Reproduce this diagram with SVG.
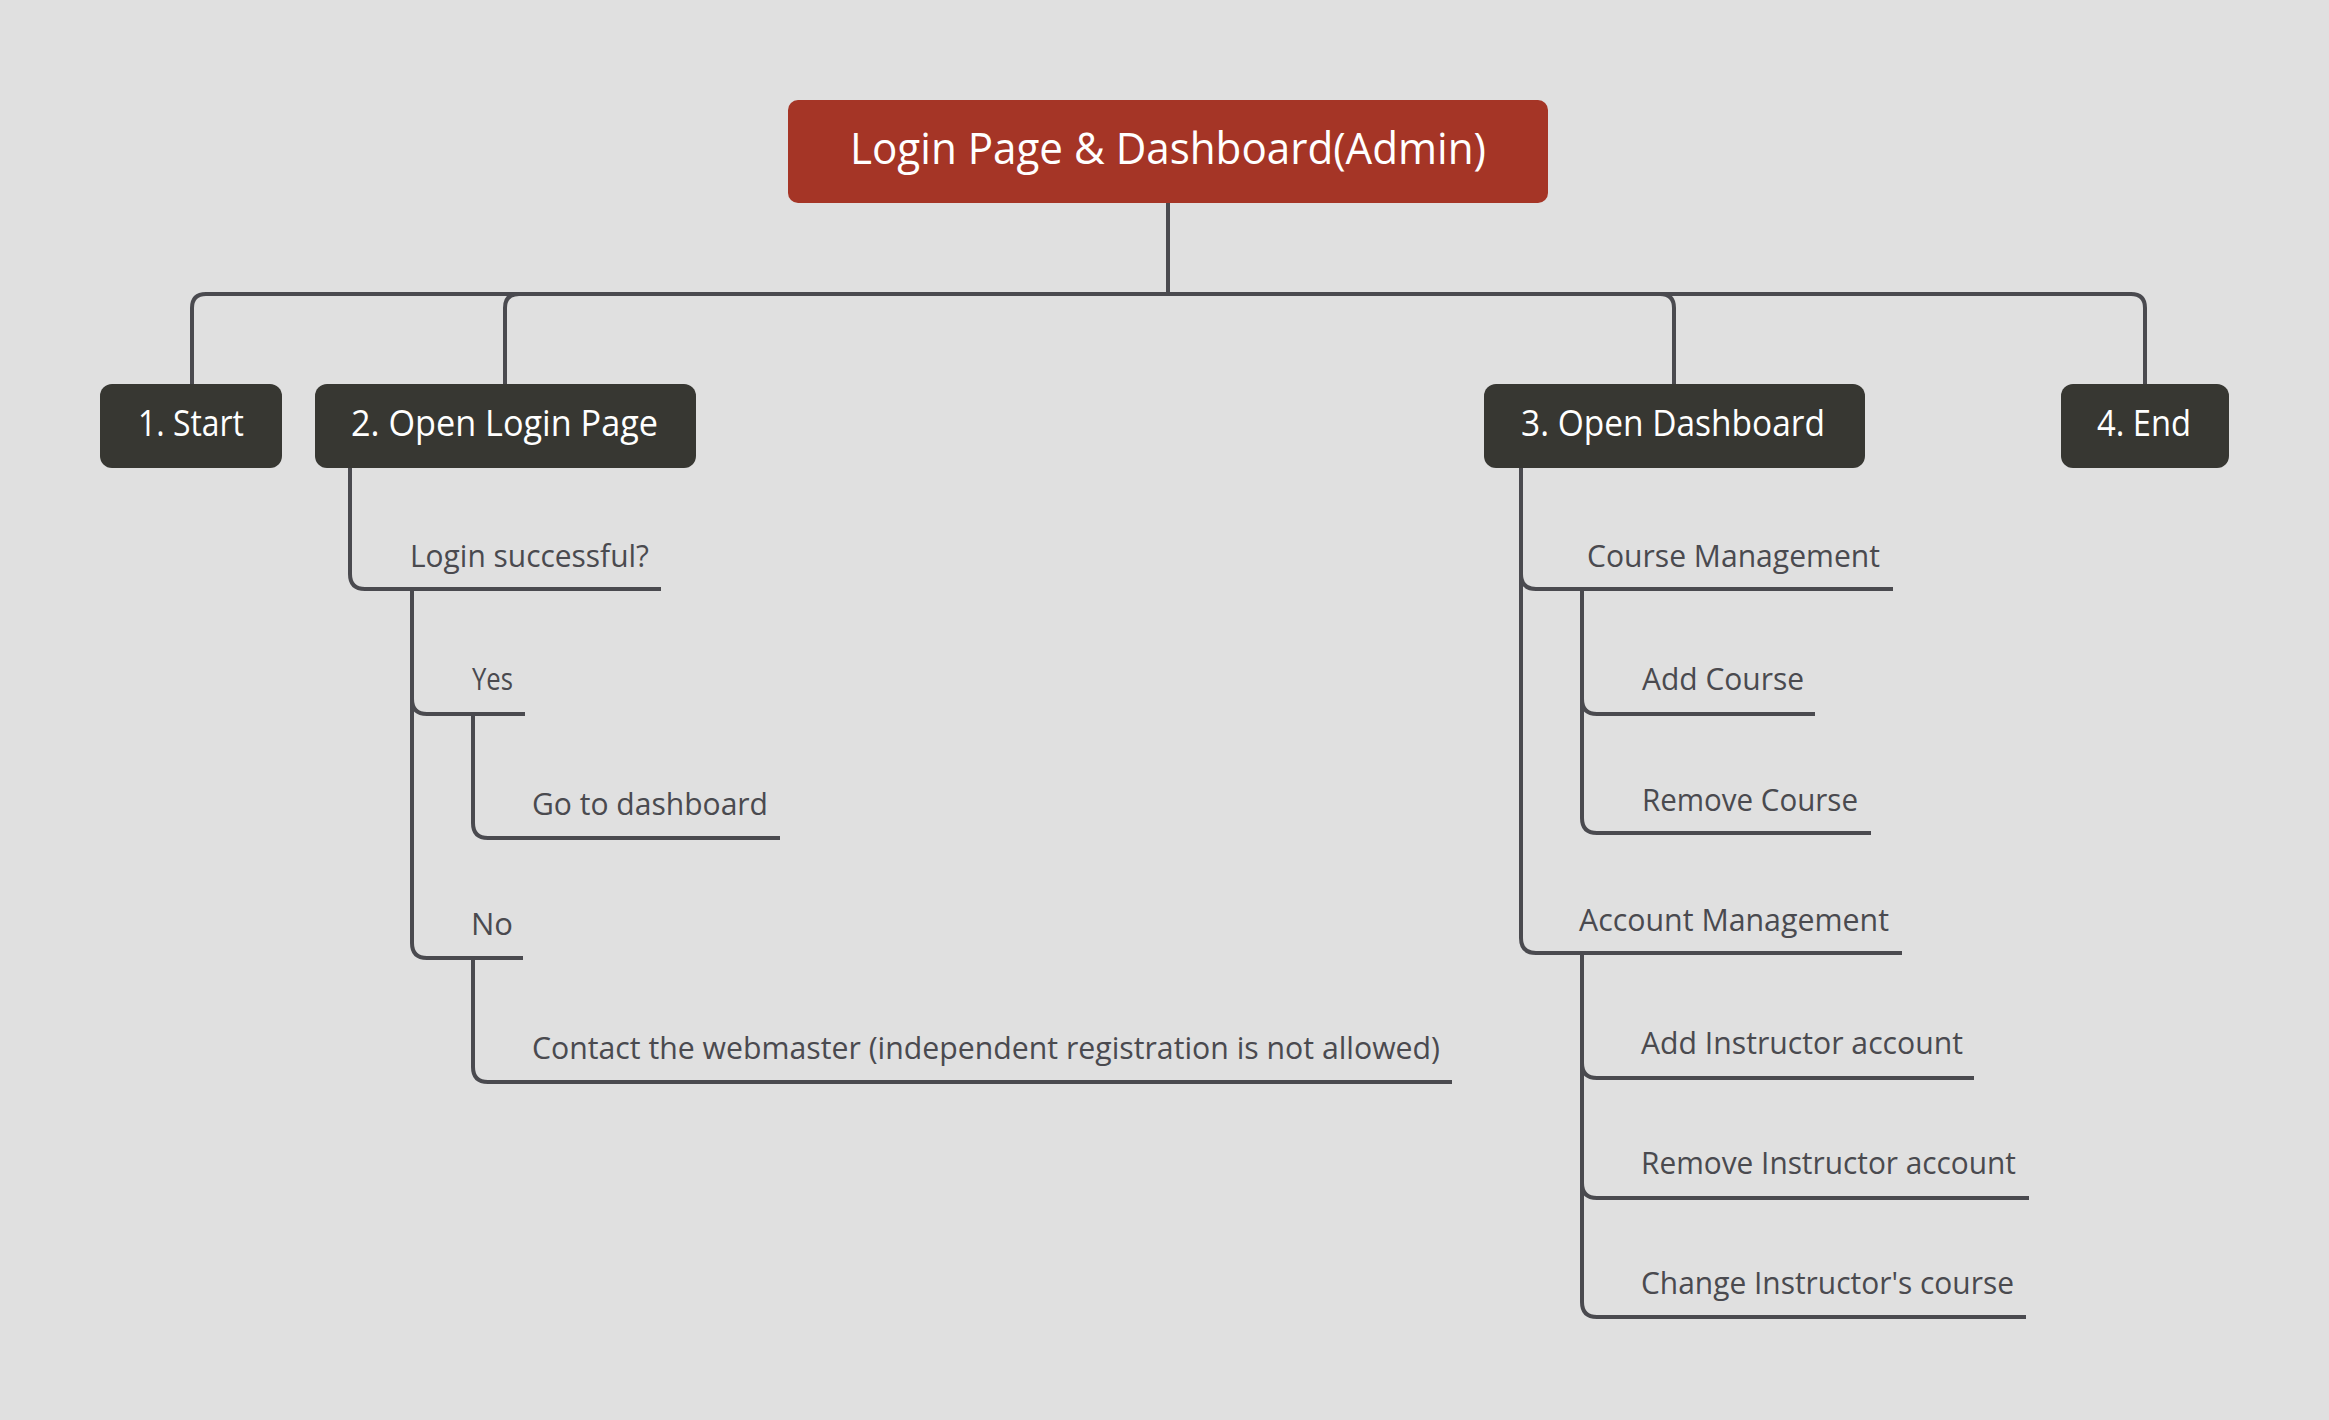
<svg xmlns="http://www.w3.org/2000/svg" width="2329" height="1420" viewBox="0 0 2329 1420">
<style>
.bg{fill:#e0e0e0}
.root{fill:#a53526}
.main{fill:#373732}
.rt{font-family:"Open Sans","Noto Sans","Liberation Sans",sans-serif;font-size:43px;fill:#ffffff}
.mt{font-family:"Open Sans","Noto Sans","Liberation Sans",sans-serif;font-size:36px;fill:#ffffff}
.st{font-family:"Open Sans","Noto Sans","Liberation Sans",sans-serif;font-size:31px;fill:#4a4a4f}
.ln{fill:none;stroke:#4a4a4f;stroke-width:4}
</style>
<rect class="bg" x="0" y="0" width="2329" height="1420"/>
<g id="connectors">
<path class="ln" d="M1168 203 V294"/>
<path class="ln" d="M192 384 V308 Q192 294 206 294 H2131 Q2145 294 2145 308 V384"/>
<path class="ln" d="M505 384 V308 Q505 294 519 294"/>
<path class="ln" d="M1674 384 V308 Q1674 294 1660 294"/>
<path class="ln" d="M350 468 V574 Q350 589 365 589 H398"/>
<path class="ln" d="M412 589 V699 Q412 714 427 714 H460"/>
<path class="ln" d="M412 589 V943 Q412 958 427 958 H461"/>
<path class="ln" d="M473 714 V823 Q473 838 488 838 H522"/>
<path class="ln" d="M473 958 V1067 Q473 1082 488 1082 H522"/>
<path class="ln" d="M1521 468 V574 Q1521 589 1536 589 H1568"/>
<path class="ln" d="M1521 468 V938 Q1521 953 1536 953 H1568"/>
<path class="ln" d="M1582 589 V699 Q1582 714 1597 714 H1631"/>
<path class="ln" d="M1582 589 V818 Q1582 833 1597 833 H1631"/>
<path class="ln" d="M1582 953 V1063 Q1582 1078 1597 1078 H1630"/>
<path class="ln" d="M1582 953 V1183 Q1582 1198 1597 1198 H1630"/>
<path class="ln" d="M1582 953 V1302 Q1582 1317 1597 1317 H1630"/>
</g>
<g id="root">
<rect class="root" x="788" y="100" width="760" height="103" rx="10"/>
<text class="rt" x="850" y="164" textLength="636" lengthAdjust="spacingAndGlyphs">Login Page &amp; Dashboard(Admin)</text>
</g>
<g id="n1">
<rect class="main" x="100" y="384" width="182" height="84" rx="12"/>
<text class="mt" x="138" y="436" textLength="106" lengthAdjust="spacingAndGlyphs">1. Start</text>
</g>
<g id="n2">
<rect class="main" x="315" y="384" width="381" height="84" rx="12"/>
<text class="mt" x="351" y="436" textLength="307" lengthAdjust="spacingAndGlyphs">2. Open Login Page</text>
</g>
<g id="n3">
<rect class="main" x="1484" y="384" width="381" height="84" rx="12"/>
<text class="mt" x="1521" y="436" textLength="304" lengthAdjust="spacingAndGlyphs">3. Open Dashboard</text>
</g>
<g id="n4">
<rect class="main" x="2061" y="384" width="168" height="84" rx="12"/>
<text class="mt" x="2097" y="436" textLength="94" lengthAdjust="spacingAndGlyphs">4. End</text>
</g>
<g id="s-login">
<text class="st" x="410" y="567" textLength="239" lengthAdjust="spacingAndGlyphs">Login successful?</text>
<path class="ln" d="M398 589 H661"/>
</g>
<g id="s-yes">
<text class="st" x="472" y="690" textLength="41" lengthAdjust="spacingAndGlyphs">Yes</text>
<path class="ln" d="M460 714 H525"/>
</g>
<g id="s-go">
<text class="st" x="532" y="815" textLength="236" lengthAdjust="spacingAndGlyphs">Go to dashboard</text>
<path class="ln" d="M522 838 H780"/>
</g>
<g id="s-no">
<text class="st" x="471" y="935" textLength="42" lengthAdjust="spacingAndGlyphs">No</text>
<path class="ln" d="M461 958 H523"/>
</g>
<g id="s-contact">
<text class="st" x="532" y="1059" textLength="908" lengthAdjust="spacingAndGlyphs">Contact the webmaster (independent registration is not allowed)</text>
<path class="ln" d="M522 1082 H1452"/>
</g>
<g id="s-course">
<text class="st" x="1587" y="567" textLength="293" lengthAdjust="spacingAndGlyphs">Course Management</text>
<path class="ln" d="M1568 589 H1893"/>
</g>
<g id="s-addcourse">
<text class="st" x="1642" y="690" textLength="162" lengthAdjust="spacingAndGlyphs">Add Course</text>
<path class="ln" d="M1631 714 H1815"/>
</g>
<g id="s-removecourse">
<text class="st" x="1642" y="811" textLength="216" lengthAdjust="spacingAndGlyphs">Remove Course</text>
<path class="ln" d="M1631 833 H1871"/>
</g>
<g id="s-account">
<text class="st" x="1579" y="931" textLength="310" lengthAdjust="spacingAndGlyphs">Account Management</text>
<path class="ln" d="M1568 953 H1902"/>
</g>
<g id="s-addinstr">
<text class="st" x="1641" y="1054" textLength="322" lengthAdjust="spacingAndGlyphs">Add Instructor account</text>
<path class="ln" d="M1630 1078 H1974"/>
</g>
<g id="s-removeinstr">
<text class="st" x="1641" y="1174" textLength="375" lengthAdjust="spacingAndGlyphs">Remove Instructor account</text>
<path class="ln" d="M1630 1198 H2029"/>
</g>
<g id="s-change">
<text class="st" x="1641" y="1294" textLength="373" lengthAdjust="spacingAndGlyphs">Change Instructor's course</text>
<path class="ln" d="M1630 1317 H2026"/>
</g>
</svg>
